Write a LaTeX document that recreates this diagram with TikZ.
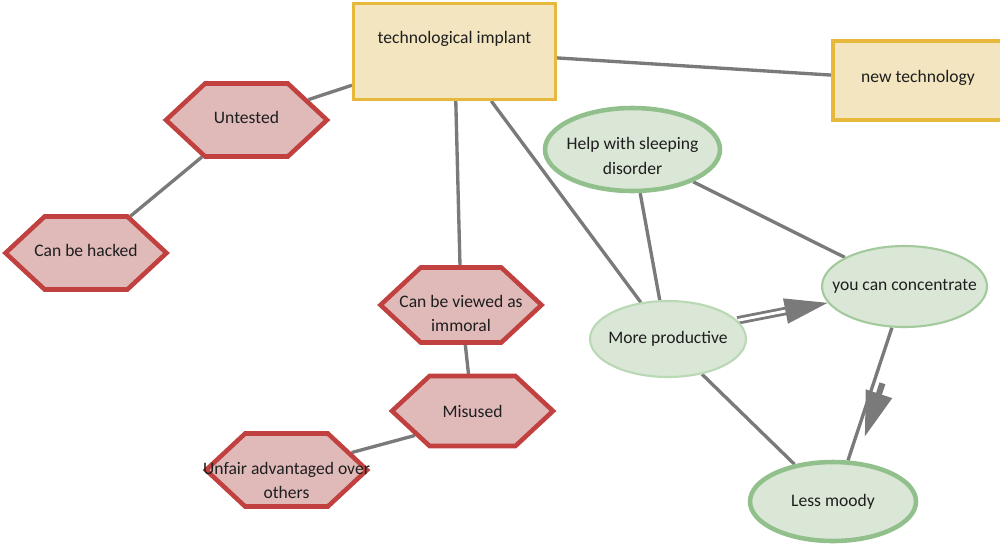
\documentclass[tikz,border=0pt]{standalone}
\usepackage{fontspec}
\setmainfont{Carlito}
\usetikzlibrary{shapes.geometric,shapes.symbols,arrows.meta,decorations.markings,backgrounds}
\definecolor{linegray}{HTML}{7A7A7A}
\definecolor{hexred}{HTML}{C0413F}
\definecolor{hexfill}{HTML}{E0BAB9}
\definecolor{boxgold}{HTML}{E6B93C}
\definecolor{boxfill}{HTML}{F2E5C0}
\definecolor{ellgreen}{HTML}{92C08C}
\definecolor{ellthin}{HTML}{A2CA9C}
\definecolor{elllight}{HTML}{B9D9B4}
\definecolor{ellfill}{HTML}{DAE6D6}
\definecolor{txtcol}{HTML}{1E1E1E}
\begin{document}
\begin{tikzpicture}[x=0.02cm, y=-0.02cm,
    conn/.style={draw=linegray, line width=1.9pt},
    lbl/.style={font=\fontsize{10}{14}\selectfont, text=txtcol, align=center},
    techbox/.style={rectangle, draw=boxgold, fill=boxfill, line width=1.8pt, inner sep=0pt},
    hexbox/.style={signal, signal to=west and east, signal pointer angle=86,
      draw=hexred, fill=hexfill, line width=2.6pt, inner sep=0pt,
      minimum width=3.22cm, minimum height=1.46cm},
    thickell/.style={ellipse, draw=ellgreen, fill=ellfill, line width=2.6pt, inner sep=0pt},
    thinell/.style={ellipse, draw=ellthin, fill=ellfill, line width=1.2pt, inner sep=0pt}]
  \useasboundingbox (0,0) rectangle (1000,545);
  % boxes
  \node[techbox, minimum width=4.04cm, minimum height=1.92cm,
    label={[lbl, yshift=0.25cm]center:technological implant}] (implant) at (454.5,51.5) {};
  \node[techbox, minimum width=3.4cm, minimum height=1.58cm,
    label={[lbl, yshift=0.05cm]center:new technology}] (newtech) at (918,80.5) {};
  % hexagons
  \node[hexbox, label={[lbl, yshift=0.05cm]center:Untested}] (untested) at (246.5,120) {};
  \node[hexbox, label={[lbl, yshift=0.06cm]center:Can be hacked}] (hacked) at (86,253) {};
  \node[hexbox, minimum height=1.5cm,
    label={[lbl, yshift=-0.17cm]center:Can be viewed as\\immoral}] (immoral) at (461,305) {};
  \node[hexbox, minimum height=1.4cm, label={[lbl]center:Misused}] (misused) at (472.5,411) {};
  \node[hexbox, label={[lbl, yshift=-0.21cm]center:Unfair advantaged over\\others}] (unfair) at (286.5,470) {};
  % ellipses
  \node[thickell, minimum width=3.5cm, minimum height=1.66cm,
    label={[lbl, yshift=-0.13cm]center:Help with sleeping\\disorder}] (sleep) at (632.5,149.5) {};
  \node[thinell, minimum width=3.3cm, minimum height=1.62cm,
    label={[lbl]center:you can concentrate}] (focus) at (904.5,286.5) {};
  \node[thinell, draw=elllight, minimum width=3.12cm, minimum height=1.52cm,
    label={[lbl]center:More productive}] (productive) at (668,339) {};
  \node[thickell, minimum width=3.32cm, minimum height=1.58cm,
    label={[lbl]center:Less moody}] (moody) at (833,501.5) {};
  % connectors
  \begin{pgfonlayer}{background}
    \draw[conn] (implant) -- (untested);
    \draw[conn] (untested) -- (hacked);
    \draw[conn] (implant) -- (newtech);
    \draw[conn] (implant) -- (immoral);
    \draw[conn] (implant) -- (productive);
    \draw[conn] (immoral) -- (misused);
    \draw[conn] (misused.203) -- (unfair.15);
    \draw[conn] (sleep.-80) -- (productive.102);
    \draw[conn] (sleep.-28) -- (focus.154);
    \draw[conn] (productive.-46) -- (moody.136);
    \draw[conn, line width=1.6pt, double=white, double distance=1.6pt,
      -{Triangle[length=0.86cm,width=0.5cm]}] (productive.15) -- (focus.192);
    \draw[conn, postaction={decorate}, decoration={markings,
      mark=at position 0.8 with {\arrow[yshift=0.17cm]{Triangle[length=0.9cm,width=0.54cm]}
        \draw[linegray, line width=3.5pt] (-1.12cm,0.17cm) -- (-0.86cm,0.17cm);}}]
      (focus.-107) -- (moody.70);
  \end{pgfonlayer}
\end{tikzpicture}
\end{document}
